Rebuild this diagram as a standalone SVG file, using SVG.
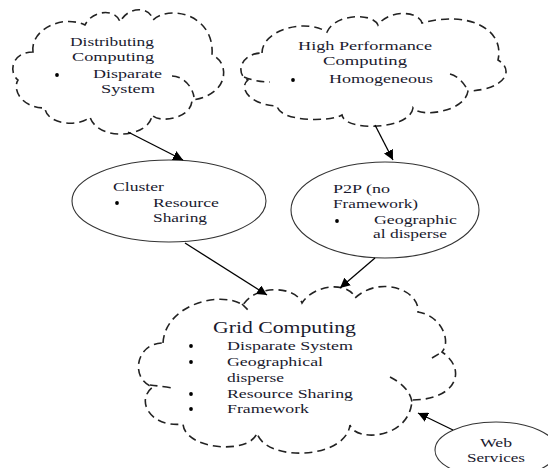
<svg xmlns="http://www.w3.org/2000/svg" width="548" height="468" viewBox="0 0 548 468">
<defs>
<marker id="ah" viewBox="0 0 10 10" refX="10" refY="5" markerWidth="10" markerHeight="10" markerUnits="userSpaceOnUse" orient="auto">
<path d="M0,0 L10,5 L0,10 z" fill="#000"/>
</marker>
<style>
.cloud{fill:#fff;stroke:#222;stroke-width:1.6;stroke-dasharray:8 5}
.tick{fill:none;stroke:#222;stroke-width:1.6;stroke-dasharray:8 5}
.ell{fill:#fff;stroke:#333;stroke-width:1.1}
text{font-family:'Times New Roman',Times,'Liberation Serif','Nimbus Roman','DejaVu Serif',serif;font-size:13px;fill:#1a1a2e}
.big{font-size:16.5px}
.dot{fill:#000}
.conn{stroke:#000;stroke-width:1.3;fill:none;marker-end:url(#ah)}
</style>
</defs>
<rect width="548" height="468" fill="#fff"/>

<g id="distributing">
<path class="cloud" d="M 33 52 C 30 30, 62 14, 85 25 C 92 10, 116 8, 120 22 C 128 6, 150 6, 153 20 C 170 4, 215 15, 212 55 C 230 62, 230 95, 192 100 C 192 118, 160 124, 152 115 C 150 138, 98 142, 90 117 C 78 128, 46 124, 45 108 C 22 108, 12 90, 18 80 C 8 72, 12 52, 33 52 Z"/>
<path class="tick" d="M 172 76 C 182 76, 192 85, 194 97"/>
<text x="70" y="46" textLength="84" lengthAdjust="spacingAndGlyphs">Distributing</text>
<text x="72" y="61" textLength="82" lengthAdjust="spacingAndGlyphs">Computing</text>
<circle class="dot" cx="57" cy="75" r="1.9"/>
<text x="93" y="78" textLength="69" lengthAdjust="spacingAndGlyphs">Disparate</text>
<text x="101" y="93" textLength="54" lengthAdjust="spacingAndGlyphs">System</text>
</g>

<g id="hpc">
<path class="cloud" d="M 262 53 C 262 30, 305 18, 327 32 C 335 14, 372 12, 378 25 C 388 10, 418 10, 422 23 C 470 10, 505 30, 498 60 C 515 70, 505 90, 468 91 C 465 112, 420 118, 413 108 C 410 130, 345 132, 342 115 C 330 122, 280 122, 277 106 C 250 105, 238 88, 248 80 C 235 75, 240 53, 262 53 Z"/>
<path class="tick" d="M 450 74 C 458 76, 465 84, 468 91"/>
<path class="tick" d="M 244 77 Q 256 82 270 82"/>
<text x="298" y="50" textLength="134" lengthAdjust="spacingAndGlyphs">High Performance</text>
<text x="323" y="65" textLength="84" lengthAdjust="spacingAndGlyphs">Computing</text>
<circle class="dot" cx="293" cy="80" r="1.9"/>
<text x="329" y="83" textLength="104" lengthAdjust="spacingAndGlyphs">Homogeneous</text>
</g>

<g id="cluster">
<ellipse class="ell" cx="169" cy="201" rx="97" ry="41"/>
<text x="113" y="191" textLength="51" lengthAdjust="spacingAndGlyphs">Cluster</text>
<circle class="dot" cx="117" cy="203" r="1.9"/>
<text x="153" y="207" textLength="66" lengthAdjust="spacingAndGlyphs">Resource</text>
<text x="153" y="222" textLength="54" lengthAdjust="spacingAndGlyphs">Sharing</text>
</g>

<g id="p2p">
<ellipse class="ell" cx="385" cy="210" rx="94" ry="48"/>
<text x="333" y="193" textLength="57" lengthAdjust="spacingAndGlyphs">P2P (no</text>
<text x="333" y="208" textLength="85" lengthAdjust="spacingAndGlyphs">Framework)</text>
<circle class="dot" cx="337" cy="221" r="1.9"/>
<text x="374" y="224" textLength="83" lengthAdjust="spacingAndGlyphs">Geographic</text>
<text x="373" y="238" textLength="74" lengthAdjust="spacingAndGlyphs">al disperse</text>
</g>

<g id="grid">
<path class="cloud" d="M 163 343 C 165 305, 220 290, 243 305 C 255 285, 295 285, 302 303 C 315 283, 350 282, 355 298 C 380 275, 420 290, 418 312 C 440 315, 452 340, 442 352 C 468 370, 456 400, 412 400 C 410 440, 355 442, 350 425 C 345 460, 265 462, 257 433 C 250 455, 185 450, 183 424 C 150 428, 135 400, 153 387 C 130 380, 135 343, 163 343 Z"/>
<path class="tick" d="M 150 385 Q 160 386 172 388"/>
<path class="tick" d="M 390 377 C 400 382, 410 390, 412 402"/>
<path class="tick" d="M 432 358 L 442 352"/>
<path class="tick" d="M 242 304 L 250 312"/>
<text class="big" x="213" y="333" textLength="143" lengthAdjust="spacingAndGlyphs">Grid Computing</text>
<circle class="dot" cx="191" cy="346" r="1.9"/>
<text x="227" y="350" textLength="126" lengthAdjust="spacingAndGlyphs">Disparate System</text>
<circle class="dot" cx="191" cy="362" r="1.9"/>
<text x="227" y="366" textLength="96" lengthAdjust="spacingAndGlyphs">Geographical</text>
<text x="227" y="382" textLength="57" lengthAdjust="spacingAndGlyphs">disperse</text>
<circle class="dot" cx="191" cy="394" r="1.9"/>
<text x="227" y="398" textLength="126" lengthAdjust="spacingAndGlyphs">Resource Sharing</text>
<circle class="dot" cx="191" cy="409" r="1.9"/>
<text x="227" y="413" textLength="82" lengthAdjust="spacingAndGlyphs">Framework</text>
</g>

<g id="web">
<ellipse class="ell" cx="496" cy="450" rx="61" ry="28"/>
<text x="480" y="447" textLength="32" lengthAdjust="spacingAndGlyphs">Web</text>
<text x="467" y="462" textLength="58" lengthAdjust="spacingAndGlyphs">Services</text>
</g>

<g id="connectors">
<line class="conn" x1="128" y1="132" x2="183" y2="160"/>
<line class="conn" x1="375" y1="125" x2="393" y2="160"/>
<line class="conn" x1="185" y1="243" x2="267" y2="295"/>
<line class="conn" x1="375" y1="258" x2="340" y2="288"/>
<line class="conn" x1="453" y1="430" x2="418" y2="413"/>
</g>
</svg>
